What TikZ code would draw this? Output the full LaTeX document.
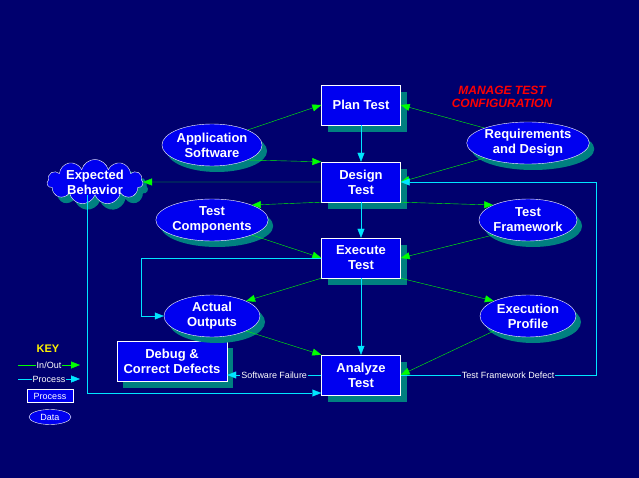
\documentclass[tikz,border=0pt]{standalone}
\usepackage{fontspec}
\setmainfont{Liberation Sans}
\usetikzlibrary{arrows.meta,shapes.geometric,shapes.symbols}
\definecolor{bg}{RGB}{0,0,110}
\definecolor{fill}{RGB}{0,0,240}
\definecolor{shad}{RGB}{0,128,128}
\definecolor{gr}{RGB}{0,255,0}
\definecolor{cy}{RGB}{0,230,255}
\begin{document}
\begin{tikzpicture}[x=1pt,y=-1pt,
 txt/.style={text=white,font=\bfseries\fontsize{13}{15}\selectfont,align=center},
 proc/.style={txt,draw=white,fill=fill,minimum width=79,minimum height=40,inner sep=1pt,
   preaction={fill=shad,transform canvas={shift={(6pt,-7pt)}}}},
 data/.style={txt,ellipse,draw=white,fill=fill,minimum width=96,minimum height=42,inner sep=0pt,
   preaction={fill=shad,transform canvas={shift={(5pt,-6pt)}}}},
 io/.style={draw=gr,-{Triangle[length=9pt,width=7pt]}},
 pr/.style={draw=cy,-{Triangle[length=9pt,width=7pt]}},
 lab/.style={text=white,font=\fontsize{9}{10}\selectfont,fill=bg,inner sep=1pt}]
\fill[bg] (0,0) rectangle (639,478);
\useasboundingbox (0,0) rectangle (639,478);
\node[proc] (plan) at (361,105) {Plan Test};
\node[proc] (design) at (361,182) {Design\\Test};
\node[proc] (exec) at (361,258) {Execute\\Test};
\node[proc] (anal) at (361,375) {Analyze\\Test};
\node[proc,minimum width=110] (debug) at (172,361) {Debug \&\\Correct Defects};
\node[data] (app) at (212,145) {Application\\Software};
\node[data] (req) at (528,143) {Requirements\\and Design};
\node[data] (tc) at (212,220) {Test\\Components};
\node[data] (tf) at (528,220) {Test\\Framework};
\node[data] (ao) at (212,316) {Actual\\Outputs};
\node[data] (ep) at (528,316) {Execution\\Profile};
\node[txt,cloud,cloud puffs=11,aspect=2.4,draw=white,fill=fill,inner sep=-3pt,minimum width=96,minimum height=44,
   preaction={fill=shad,transform canvas={shift={(5pt,-6pt)}}}] (eb) at (95,182) {Expected\\Behavior};
\node[text=red,font=\bfseries\itshape\fontsize{12}{13}\selectfont,align=center] (title) at (502,97) {MANAGE TEST\\CONFIGURATION};
% in/out
\draw[io] (app.north east) -- (plan.west);
\draw[io] (app.south east) -- (design.north west);
\draw[io] (req.north west) -- (plan.east);
\draw[io] (req.south west) -- (design.east);
\draw[io] (design.west) -- (eb.east);
\draw[io] (design.south west) -- (tc.north east);
\draw[io] (design.south east) -- (tf.north west);
\draw[io] (tc.south east) -- (exec.west);
\draw[io] (tf.south west) -- (exec.east);
\draw[io] (exec.south west) -- (ao.north east);
\draw[io] (exec.south east) -- (ep.north west);
\draw[io] (ao.south east) -- (anal.north west);
\draw[io] (ep.south west) -- (anal.east);
% process
\draw[pr] (plan) -- (design);
\draw[pr] (design) -- (exec);
\draw[pr] (exec) -- (anal);
\draw[pr] (exec.west) -- (141,258) -- (141,316) -- (ao.west);
\draw[pr] (eb.south -| 87,0) -- (87,393) -- (anal.west |- 0,393);
\draw[pr] (anal.west) -- node[lab,pos=0.5]{Software Failure} (debug.east |- anal.west);
\coordinate (c1) at (596,375);
\coordinate (c2) at (596,182);
\draw[pr] (anal.east) -- node[lab,pos=0.55]{Test Framework Defect} (c1) -- (c2) -- (design.east);
% key
\node[text=yellow,font=\bfseries\fontsize{11}{12}\selectfont] (key) at (48,349) {KEY};
\coordinate (k1) at (18,365); \coordinate (k2) at (80,365);
\draw[io] (k1) -- node[lab]{In/Out} (k2);
\coordinate (k3) at (18,379); \coordinate (k4) at (80,379);
\draw[pr] (k3) -- node[lab]{Process} (k4);
\node[draw=white,fill=fill,text=white,font=\fontsize{9}{10}\selectfont,minimum width=46,minimum height=13,inner sep=1pt] (kp) at (50,396) {Process};
\node[ellipse,draw=white,fill=fill,text=white,font=\fontsize{9}{10}\selectfont,minimum width=42,minimum height=15,inner sep=0pt] (kd) at (50,417) {Data};
\end{tikzpicture}
\end{document}
